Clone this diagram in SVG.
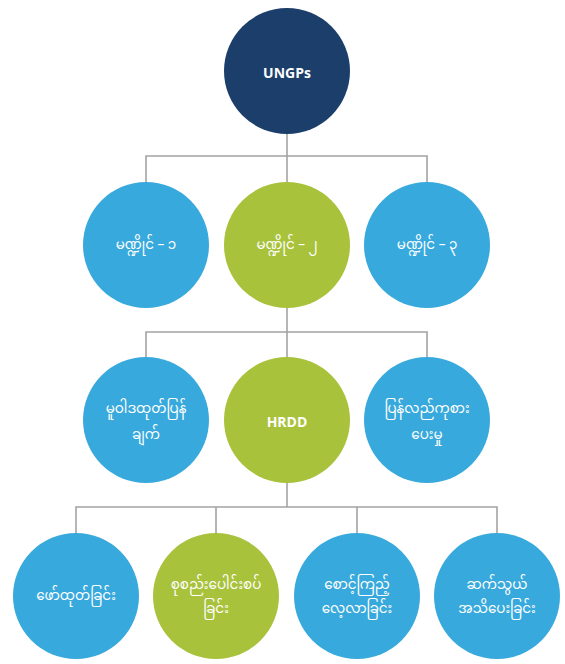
<svg xmlns="http://www.w3.org/2000/svg" width="565" height="664" viewBox="0 0 565 664">
  <style>
    .navy { fill: #1b3e6b; }
    .blue { fill: #38a9dc; }
    .green { fill: #a8c23c; }
    .conn { fill: none; stroke: #a3a3a3; stroke-width: 1.6; }
    .lbl { fill: #ffffff; font-family: "Noto Sans Myanmar", "Padauk", "Myanmar Text", "Noto Sans", "DejaVu Sans", sans-serif; font-size: 13.5px; text-anchor: middle; dominant-baseline: central; }
    .en { font-family: "Open Sans", "Noto Sans", "Liberation Sans", sans-serif; font-weight: bold; font-size: 14px; }
  </style>
  <rect width="565" height="664" fill="#ffffff"/>

  <g id="connectors">
    <path class="conn" d="M287 134 V156 M146 182 V156 H427 V182 M287 156 V182"/>
    <path class="conn" d="M287 308 V332 M146 357 V332 H427 V357 M287 332 V357"/>
    <path class="conn" d="M287 483 V507 M76 533 V507 H497 V533 M216 507 V533 M357 507 V533"/>
  </g>

  <g id="ungps">
    <circle class="navy" cx="287" cy="71" r="63"/>
    <text class="lbl en" x="287" y="72">UNGPs</text>
  </g>

  <g id="pillar-1">
    <circle class="blue" cx="146" cy="245" r="63"/>
    <text class="lbl" x="146" y="246">မဏ္ဍိုင် – ၁</text>
  </g>
  <g id="pillar-2">
    <circle class="green" cx="287" cy="245" r="63"/>
    <text class="lbl" x="287" y="246">မဏ္ဍိုင် – ၂</text>
  </g>
  <g id="pillar-3">
    <circle class="blue" cx="427" cy="245" r="63"/>
    <text class="lbl" x="427" y="246">မဏ္ဍိုင် – ၃</text>
  </g>

  <g id="policy">
    <circle class="blue" cx="146" cy="420" r="63"/>
    <text class="lbl" x="146" y="410">မူဝါဒထုတ်ပြန်</text>
    <text class="lbl" x="146" y="436">ချက်</text>
  </g>
  <g id="hrdd">
    <circle class="green" cx="287" cy="420" r="63"/>
    <text class="lbl en" x="287" y="421">HRDD</text>
  </g>
  <g id="remedy">
    <circle class="blue" cx="427" cy="420" r="63"/>
    <text class="lbl" x="427" y="410">ပြန်လည်ကုစား</text>
    <text class="lbl" x="427" y="436">ပေးမှု</text>
  </g>

  <g id="identify">
    <circle class="blue" cx="76" cy="596" r="63"/>
    <text class="lbl" x="76" y="597">ဖော်ထုတ်ခြင်း</text>
  </g>
  <g id="integrate">
    <circle class="green" cx="216" cy="596" r="63"/>
    <text class="lbl" x="216" y="586">စုစည်းပေါင်းစပ်</text>
    <text class="lbl" x="216" y="610">ခြင်း</text>
  </g>
  <g id="monitor">
    <circle class="blue" cx="357" cy="596" r="63"/>
    <text class="lbl" x="357" y="586">စောင့်ကြည့်</text>
    <text class="lbl" x="357" y="610">လေ့လာခြင်း</text>
  </g>
  <g id="communicate">
    <circle class="blue" cx="497" cy="596" r="63"/>
    <text class="lbl" x="497" y="586">ဆက်သွယ်</text>
    <text class="lbl" x="497" y="610">အသိပေးခြင်း</text>
  </g>
</svg>
